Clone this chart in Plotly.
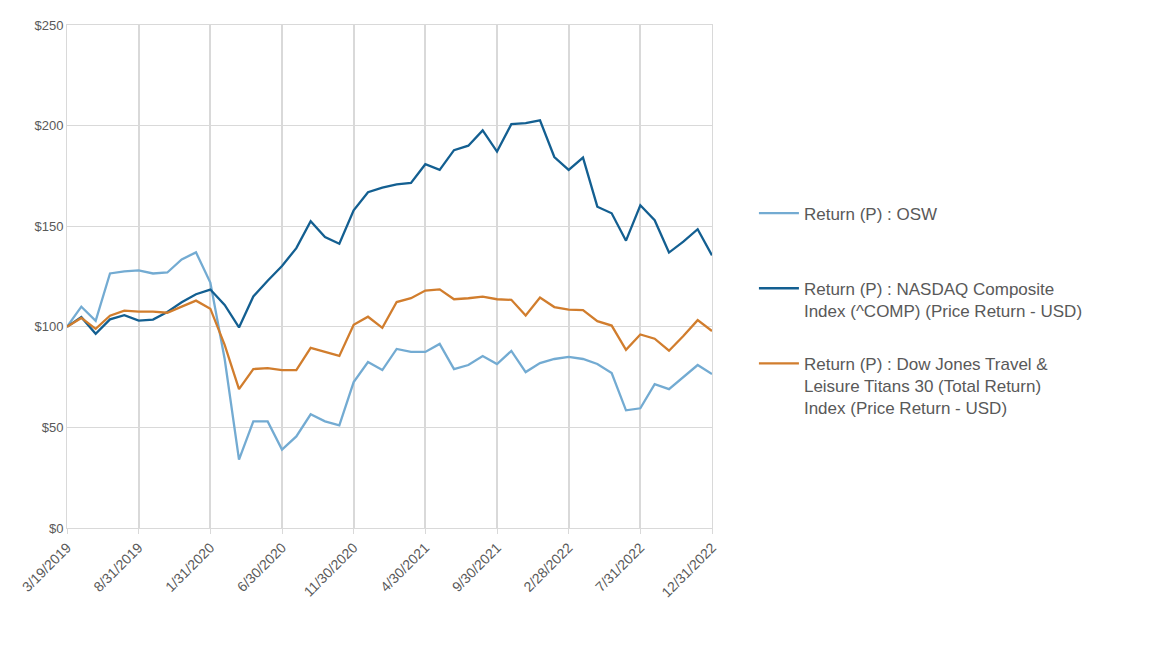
import plotly.graph_objects as go
import pandas as pd

# month-end dates (first point is the start date)
dates = ["3/19/2019"] + [
    f"{d.month}/{d.day}/{d.year}"
    for d in pd.date_range("2019-04-30", "2022-12-31", freq="ME")
]

osw = [100, 110, 103, 126.5, 127.5, 128, 126.5, 127, 133.5, 137,
       122, 84, 34, 53, 53, 39, 45.5, 56.5, 53, 51,
       72.5, 82.5, 78.5, 89, 87.5, 87.5, 91.5, 79, 81, 85.5,
       81.5, 88, 77.5, 82, 84, 85, 84, 81.5, 77, 58.5,
       59.5, 71.5, 69, 75, 81, 76.5]

nasdaq = [100, 104.8, 96.5, 103.7, 105.8, 103.1, 103.6, 107.4, 112.2, 116.2,
          118.5, 110.9, 99.7, 115.1, 122.9, 130.2, 139.1, 152.5, 144.6, 141.3,
          157.9, 166.9, 169.2, 170.8, 171.5, 180.8, 178.0, 187.8, 190.0, 197.6,
          187.1, 200.7, 201.2, 202.6, 184.4, 178.0, 184.1, 159.7, 156.4, 142.8,
          160.4, 153.0, 136.9, 142.3, 148.5, 135.5]

dow_travel = [100, 104.4, 99, 105.5, 108, 107.5, 107.5, 107, 110, 113,
              109, 91, 69, 79, 79.5, 78.5, 78.5, 89.5, 87.5, 85.5,
              101, 105, 99.5, 112.3, 114.2, 118, 118.6, 113.7, 114.2, 115,
              113.7, 113.4, 105.6, 114.5, 109.8, 108.5, 108.3, 102.8, 100.6, 88.6,
              96.2, 94.1, 88.1, 95.4, 103.3, 97.9]

# trailing blank line keeps the legend rows evenly spaced
names = [
    "Return (P) : OSW<br> ",
    "Return (P) : NASDAQ Composite<br>Index (^COMP) (Price Return - USD)",
    "Return (P) : Dow Jones Travel &<br>Leisure Titans 30 (Total Return)<br>Index (Price Return - USD)",
]
colors = ["#73abd2", "#135f91", "#d17d2d"]
series = [osw, nasdaq, dow_travel]

fig = go.Figure()
for i, (name, vals, col) in enumerate(zip(names, series, colors)):
    fig.add_trace(go.Scatter(
        x=dates, y=vals, name=name, mode="lines",
        line=dict(color=col, width=2.3),
        legendgroup=f"g{i}",
    ))

grid = "#d9d9d9"
fig.update_layout(
    width=1152, height=648,
    margin=dict(l=59, r=448, t=10, b=128),
    plot_bgcolor="white", paper_bgcolor="white",
    font=dict(family="Liberation Sans, Arial, sans-serif", color="#595959"),
    legend=dict(
        x=1.065, y=0.661, xanchor="left", yanchor="top",
        font=dict(size=17, color="#595959"),
        tracegroupgap=28, valign="top", itemwidth=40,
    ),
    showlegend=True,
)
fig.update_xaxes(
    type="category", range=[0, len(dates) - 1],
    tickvals=dates[::5], ticktext=dates[::5],
    tickangle=-45, tickfont=dict(size=14, color="#595959"),
    showgrid=True, gridcolor=grid, gridwidth=1.5,
    ticks="outside", ticklen=5, tickcolor=grid,
    showline=True, linecolor=grid, linewidth=1, mirror=True,
)
fig.update_yaxes(
    range=[0, 250], dtick=50, tickprefix="$",
    tickfont=dict(size=13, color="#595959"),
    showgrid=True, gridcolor=grid, gridwidth=1,
    zeroline=False,
    showline=True, linecolor=grid, linewidth=1, mirror=True,
)

fig.write_html("out.html")
